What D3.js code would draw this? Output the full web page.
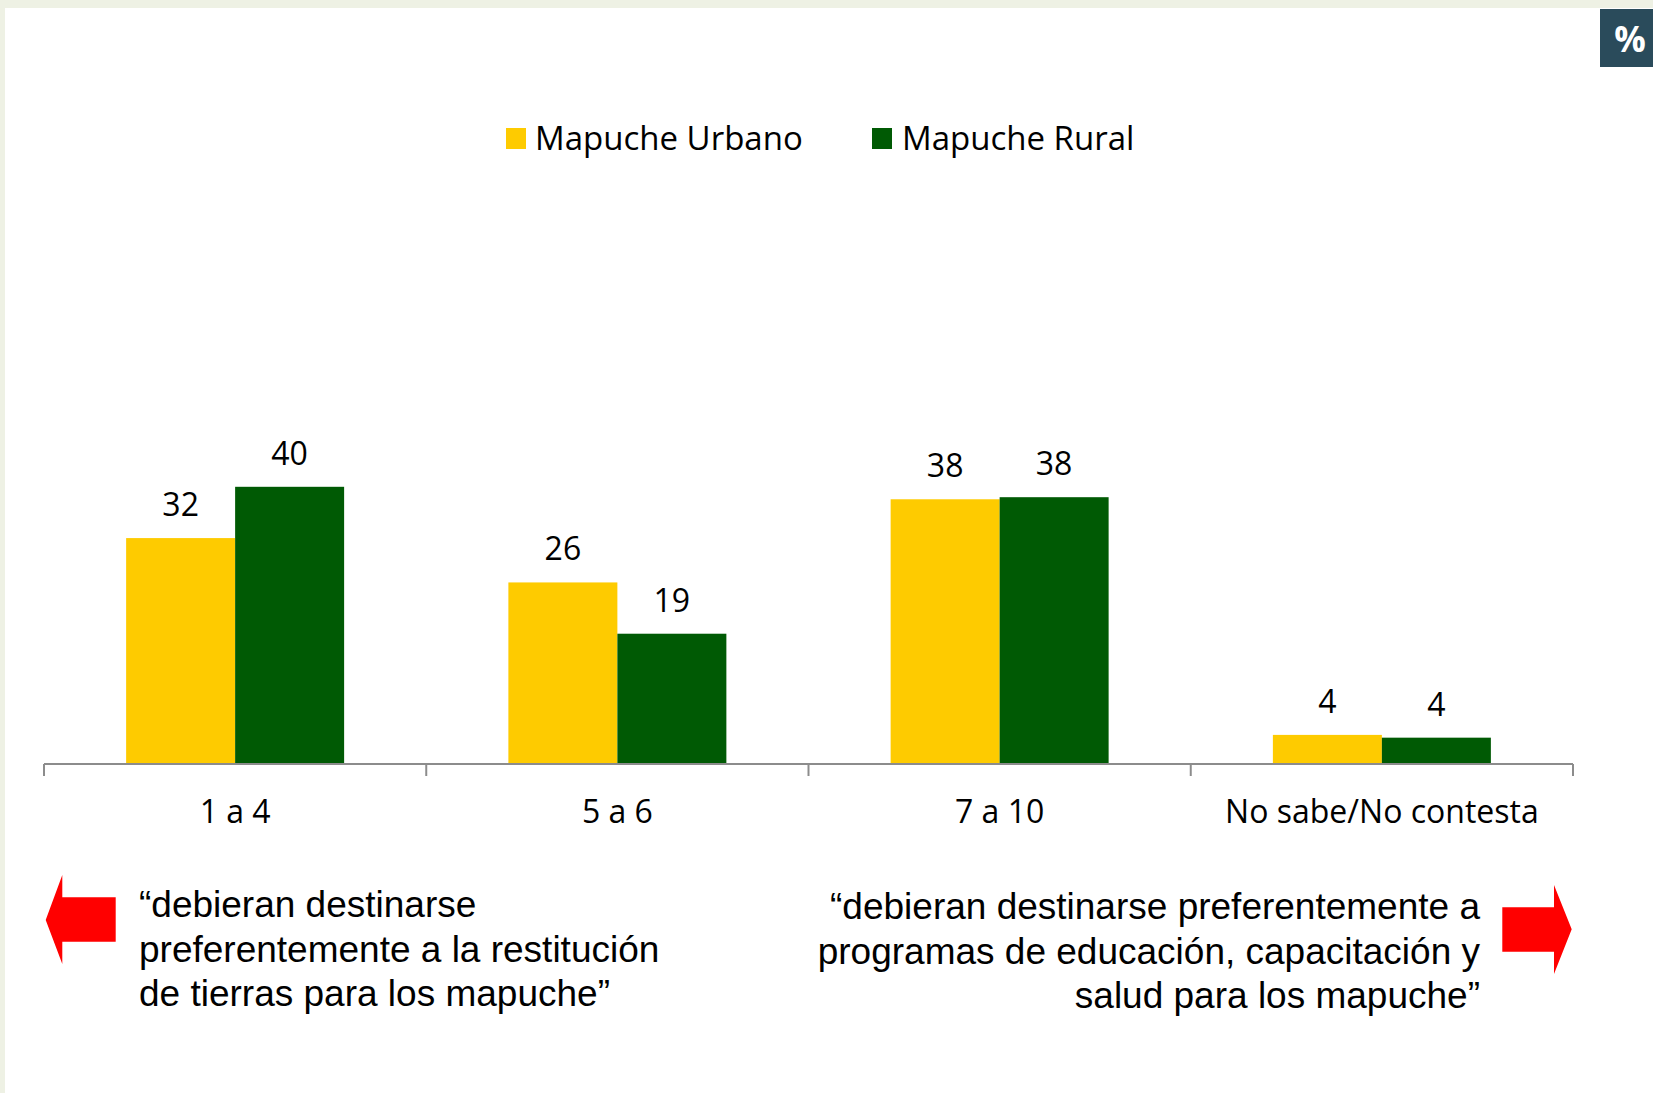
<!DOCTYPE html>
<html>
<head>
<meta charset="utf-8">
<script src="https://cdn.jsdelivr.net/npm/d3@7"></script>
<style>
  html, body { margin: 0; padding: 0; background: #fff; }
  svg { display: block; }
</style>
</head>
<body>
<svg id="chart" width="1653" height="1093"></svg>
<script>
const categories = ["1 a 4", "5 a 6", "7 a 10", "No sabe/No contesta"];
const seriesNames = ["Mapuche Urbano", "Mapuche Rural"];
const urbanoValues = [32.6, 26.2, 38.2, 4.2];
const ruralValues = [40.0, 18.8, 38.5, 3.8];
const urbanoLabels = ["32", "26", "38", "4"];
const ruralLabels = ["40", "19", "38", "4"];
const seriesColors = ["#fecb00", "#005a04"];
const leftNote = ["\u201cdebieran destinarse", "preferentemente a la restituci\u00f3n", "de tierras para los mapuche\u201d"];
const rightNote = ["\u201cdebieran destinarse preferentemente a", "programas de educaci\u00f3n, capacitaci\u00f3n y", "salud para los mapuche\u201d"];

const svg = d3.select("#chart");

// page frame
svg.append("rect").attr("x", 0).attr("y", 0).attr("width", 1653).attr("height", 8).attr("fill", "#eef1e4");
svg.append("rect").attr("x", 0).attr("y", 0).attr("width", 5).attr("height", 1093).attr("fill", "#eef1e4");

// % badge
svg.append("rect").attr("x", 1600).attr("y", 9).attr("width", 53).attr("height", 58).attr("fill", "#2a4b5b");
svg.append("text").attr("x", 1630).attr("y", 52).attr("text-anchor", "middle")
  .attr("font-family", "'Open Sans', sans-serif").attr("font-weight", 700).attr("font-size", 35)
  .attr("fill", "#fff").text("%");

const baseY = 764;
const x0 = d3.scaleBand().domain(categories).range([44, 1573]).paddingInner(0).paddingOuter(0);
const x1 = d3.scaleBand().domain(seriesNames).range([0, x0.bandwidth()]).paddingInner(0).paddingOuter(0.7535);
const y = d3.scaleLinear().domain([0, 50]).range([baseY, baseY - 50 * 6.93]);

const data = categories.map((c, i) => ({
  cat: c,
  vals: [
    { s: seriesNames[0], v: urbanoValues[i], label: urbanoLabels[i], color: seriesColors[0] },
    { s: seriesNames[1], v: ruralValues[i], label: ruralLabels[i], color: seriesColors[1] }
  ]
}));

const groups = svg.append("g").selectAll("g").data(data).join("g")
  .attr("transform", d => `translate(${x0(d.cat)},0)`);

groups.selectAll("rect").data(d => d.vals).join("rect")
  .attr("x", d => x1(d.s))
  .attr("width", x1.bandwidth())
  .attr("y", d => y(d.v))
  .attr("height", d => baseY - y(d.v))
  .attr("fill", d => d.color);

groups.selectAll("text").data(d => d.vals).join("text")
  .attr("x", d => x1(d.s) + x1.bandwidth() / 2)
  .attr("y", d => y(d.v) - 22)
  .attr("text-anchor", "middle")
  .attr("font-family", "'Open Sans', sans-serif")
  .attr("font-size", 32)
  .attr("fill", "#000")
  .text(d => d.label);

// axis
const axisG = svg.append("g");
axisG.append("line").attr("x1", x0.range()[0]).attr("x2", x0.range()[1])
  .attr("y1", baseY).attr("y2", baseY).attr("stroke", "#8c8c8c").attr("stroke-width", 2);
const boundaries = categories.map(c => x0(c)).concat([x0.range()[1]]);
axisG.selectAll("line.tick").data(boundaries).join("line").attr("class", "tick")
  .attr("x1", d => d).attr("x2", d => d).attr("y1", baseY).attr("y2", baseY + 12)
  .attr("stroke", "#8c8c8c").attr("stroke-width", 2);

const xAxis = d3.axisBottom(x0).tickSize(0).tickPadding(0);
const axLabels = svg.append("g").attr("transform", `translate(0,${baseY})`).call(xAxis);
axLabels.select(".domain").remove();
axLabels.selectAll("text")
  .attr("y", 59).attr("dy", 0)
  .attr("font-family", "'Open Sans', sans-serif")
  .attr("font-size", 32)
  .attr("fill", "#000");

// legend
const legend = svg.append("g");
const legendItems = [
  { name: seriesNames[0], color: seriesColors[0], sx: 506, tx: 535 },
  { name: seriesNames[1], color: seriesColors[1], sx: 872, tx: 902 }
];
legendItems.forEach(it => {
  legend.append("rect").attr("x", it.sx).attr("y", 128).attr("width", 20).attr("height", 21).attr("fill", it.color);
  legend.append("text").attr("x", it.tx).attr("y", 150)
    .attr("font-family", "'Open Sans', sans-serif").attr("font-size", 33).attr("fill", "#000").text(it.name);
});

// notes
const noteFont = "'Liberation Sans', Arial, sans-serif";
svg.append("g").selectAll("text").data(leftNote).join("text")
  .attr("x", 139).attr("y", (d, i) => 917 + i * 44.5)
  .attr("font-family", noteFont).attr("font-size", 37).attr("fill", "#000").text(d => d);
svg.append("g").selectAll("text").data(rightNote).join("text")
  .attr("x", 1480).attr("y", (d, i) => 919 + i * 44.5).attr("text-anchor", "end")
  .attr("font-family", noteFont).attr("font-size", 37).attr("fill", "#000").text(d => d);

// arrows
svg.append("polygon").attr("fill", "#ff0000")
  .attr("points", [[45.7,920],[62.3,875],[62.3,897.3],[115.7,897.3],[115.7,941.7],[62.3,941.7],[62.3,964]].map(p => p.join(",")).join(" "));
svg.append("polygon").attr("fill", "#ff0000")
  .attr("points", [[1571.7,929.3],[1554,885],[1554,907.3],[1502.3,907.3],[1502.3,951.7],[1554,951.7],[1554,974]].map(p => p.join(",")).join(" "));
</script>
</body>
</html>
